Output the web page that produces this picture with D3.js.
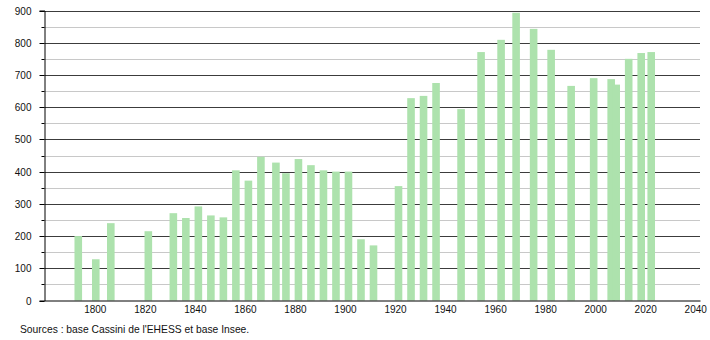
<!DOCTYPE html>
<html>
<head>
<meta charset="utf-8">
<script src="https://cdn.jsdelivr.net/npm/d3@7"></script>
<style>
  html, body { margin: 0; padding: 0; background: #fff; }
  svg { display: block; }
  text { font-family: "Liberation Sans", Arial, sans-serif; }
</style>
</head>
<body>
<svg id="chart" width="710" height="340"></svg>
<script>
const years = [1793, 1800, 1806, 1821, 1831, 1836, 1841, 1846, 1851, 1856, 1861, 1866, 1872, 1876, 1881, 1886, 1891, 1896, 1901, 1906, 1911, 1921, 1926, 1931, 1936, 1946, 1954, 1962, 1968, 1975, 1982, 1990, 1999, 2006, 2008, 2013, 2018, 2022];
const population = [200, 128, 240, 215, 271, 256, 292, 264, 258, 404, 372, 446, 428, 395, 439, 420, 404, 400, 400, 190, 171, 355, 628, 635, 675, 594, 771, 809, 893, 843, 778, 666, 690, 687, 670, 750, 768, 771];
const xTicks = [1800, 1820, 1840, 1860, 1880, 1900, 1920, 1940, 1960, 1980, 2000, 2020, 2040];
const yMajorTicks = [0, 100, 200, 300, 400, 500, 600, 700, 800, 900];
const yMinorTicks = [50, 150, 250, 350, 450, 550, 650, 750, 850];
const sourceText = "Sources : base Cassini de l'EHESS et base Insee.";

(function () {
const svg = d3.select("#chart");
const mLeft = 44.5, mRight = 700, mTop = 10.5, mBottom = 300.5;

const x = d3.scaleLinear().domain([1779.5, 2041.5]).range([mLeft, mRight]);
const y = d3.scaleLinear().domain([0, 900]).range([mBottom, mTop]);
const barW = 7.6;
const py = d => Math.round(y(d)) + 0.5;

// minor gridlines
svg.append("g").selectAll("line").data(yMinorTicks).join("line")
  .attr("x1", mLeft).attr("x2", mRight)
  .attr("y1", py).attr("y2", py)
  .attr("stroke", "#c8c8c8").attr("stroke-width", 1);

// major gridlines
svg.append("g").selectAll("line").data(yMajorTicks.filter(d => d > 0)).join("line")
  .attr("x1", mLeft).attr("x2", mRight)
  .attr("y1", py).attr("y2", py)
  .attr("stroke", "#3c3c3c").attr("stroke-width", 1);

// bars
svg.append("g").selectAll("rect").data(years).join("rect")
  .attr("x", d => x(d) - barW / 2)
  .attr("width", barW)
  .attr("y", (d, i) => y(population[i]))
  .attr("height", (d, i) => y(0) - y(population[i]))
  .attr("fill", "#ade2ad");

// y axis
const yAxis = d3.axisLeft(y).tickValues(yMajorTicks).tickSize(5).tickPadding(8).tickFormat(d3.format("d"));
const yg = svg.append("g").attr("transform", `translate(${mLeft},0)`).call(yAxis);
yg.select(".domain").attr("stroke", "#000");
yg.selectAll(".tick line").attr("stroke", "#000");
yg.selectAll(".tick text").attr("font-size", 10).attr("fill", "#111")
  .attr("font-family", "'Liberation Sans', Arial, sans-serif");
yg.selectAll(".tick").attr("transform", d => `translate(0,${py(d)})`);
// minor y ticks
svg.append("g").selectAll("line").data(yMinorTicks).join("line")
  .attr("x1", mLeft - 3).attr("x2", mLeft)
  .attr("y1", py).attr("y2", py)
  .attr("stroke", "#000");

// x axis
const xAxis = d3.axisBottom(x).tickValues(xTicks).tickSize(0).tickPadding(5).tickFormat(d3.format("d"));
const xg = svg.append("g").attr("transform", `translate(0,${mBottom})`).call(xAxis);
xg.select(".domain").attr("stroke", "#000");
xg.selectAll(".tick text").attr("font-size", 10).attr("fill", "#111").attr("dx", -1)
  .attr("font-family", "'Liberation Sans', Arial, sans-serif");

// source
svg.append("text").attr("x", 20).attr("y", 333)
  .attr("font-size", 10.3).attr("fill", "#111")
  .text(sourceText);
})();
</script>
</body>
</html>
